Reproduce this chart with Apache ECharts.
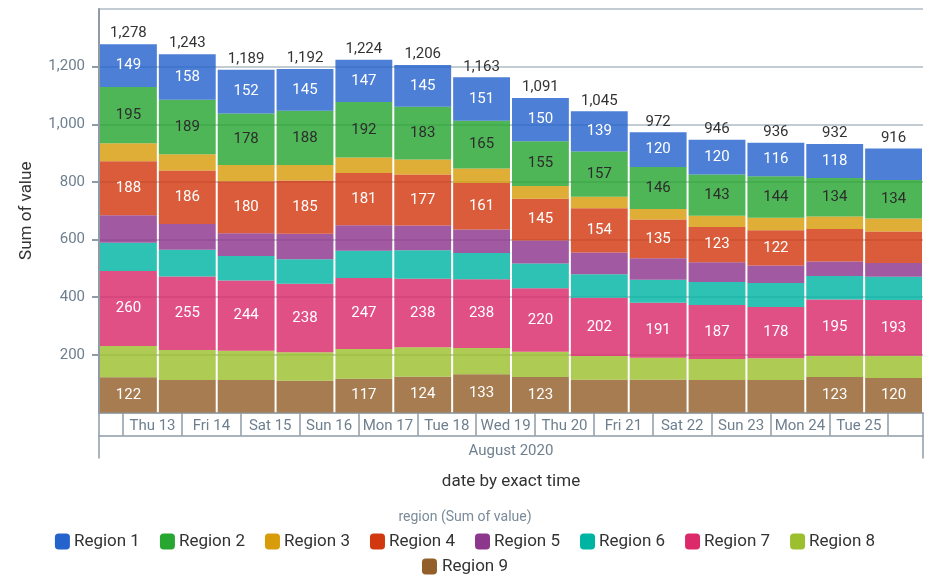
<!DOCTYPE html>
<html>
<head>
<meta charset="utf-8">
<script src="https://cdn.jsdelivr.net/npm/echarts@6/dist/echarts.min.js"></script>
<style>
html,body{margin:0;padding:0;background:#ffffff;}
#chart{width:930px;height:576px;}
</style>
</head>
<body>
<div id="chart"></div>
<script>
// ---- data ----
const categories = ['Aug 13','Aug 14','Aug 15','Aug 16','Aug 17','Aug 18','Aug 19','Aug 20','Aug 21','Aug 22','Aug 23','Aug 24','Aug 25','Aug 26'];
const region1 = [149,158,152,145,147,145,151,150,139,120,120,116,118,109];
const region2 = [195,189,178,188,192,183,165,155,157,146,143,144,134,134];
const region3 = [62,56,57,54,54,52,51,44,40,36,39,44,43,45];
const region4 = [188,186,180,185,181,177,161,145,154,135,123,122,113,109];
const region5 = [95,89,79,88,89,86,82,80,75,74,68,61,50,48];
const region6 = [98,93,85,85,94,99,91,86,82,80,80,83,82,81];
const region7 = [260,255,244,238,247,238,238,220,202,191,187,178,195,193];
const region8 = [109,104,101,99,103,102,91,88,82,76,73,75,74,77];
const region9 = [122,113,113,110,117,124,133,123,114,114,113,113,123,120];
const totals  = [1278,1243,1189,1192,1224,1206,1163,1091,1045,972,946,936,932,916];
const dayLabels = ['Thu 13','Fri 14','Sat 15','Sun 16','Mon 17','Tue 18','Wed 19','Thu 20','Fri 21','Sat 22','Sun 23','Mon 24','Tue 25'];
const monthLabel = 'August 2020';
const yTicks = [0,200,400,600,800,1000,1200,1400];
const regionNames = ['Region 1','Region 2','Region 3','Region 4','Region 5','Region 6','Region 7','Region 8','Region 9'];

// ---- styling ----
const baseColors = ['#2563cc','#27a631','#d89c0a','#d23810','#8c368c','#00b4a4','#db296a','#9cbf2e','#925f2a'];
const labelColors = ['#ffffff','#2d2d2d','#ffffff','#ffffff','#ffffff','#ffffff','#ffffff','#ffffff','#ffffff'];
const FONT = 'Roboto, "Noto Sans", sans-serif';
const AXIS_GRAY = '#8f9ca8';
const TEXT_GRAY = '#6e7f8f';
const DAY = 86400000;
const firstDay = Date.UTC(2020, 7, 13);
const axisStart = firstDay - 0.408 * DAY;
const axisEnd = axisStart + 14 * DAY;

function rgba(hex, a) {
  const n = parseInt(hex.slice(1), 16);
  return 'rgba(' + ((n >> 16) & 255) + ',' + ((n >> 8) & 255) + ',' + (n & 255) + ',' + a + ')';
}

const regionData = [region1, region2, region3, region4, region5, region6, region7, region8, region9];

const series = [];
for (let k = 8; k >= 0; k--) {
  series.push({
    name: regionNames[k],
    type: 'bar',
    stack: 'all',
    xAxisIndex: 0,
    yAxisIndex: 0,
    barCategoryGap: '3.4%',
    data: regionData[k],
    itemStyle: { color: rgba(baseColors[k], 0.82) },
    emphasis: { disabled: true },
    label: {
      show: true,
      position: 'inside',
      fontFamily: FONT,
      fontSize: 15,
      color: labelColors[k],
      formatter: p => (p.value >= 115 ? String(p.value) : '')
    }
  });
}
series.push({
  name: 'Total',
  type: 'bar',
  stack: 'all',
  xAxisIndex: 0,
  yAxisIndex: 0,
  barCategoryGap: '3.4%',
  data: totals.map(() => 0),
  itemStyle: { color: 'rgba(0,0,0,0)' },
  label: {
    show: true,
    position: 'top',
    distance: 3,
    fontFamily: FONT,
    fontSize: 15,
    color: '#333333',
    formatter: p => totals[p.dataIndex].toLocaleString('en-US')
  }
});

const chart = echarts.init(document.getElementById('chart'), null, { renderer: 'canvas' });
chart.setOption({
  animation: false,
  useUTC: true,
  textStyle: { fontFamily: FONT },
  grid: { left: 99, right: 7, top: 9, bottom: 163.5, containLabel: false },
  title: {
    text: 'region (Sum of value)',
    left: 'center',
    top: 505,
    textStyle: { fontFamily: FONT, fontSize: 14, fontWeight: 'normal', color: '#7a8a98' }
  },
  legend: [
    {
      data: regionNames.slice(0, 8).map((n, i) => ({ name: n, itemStyle: { color: baseColors[i] } })),
      left: 'center',
      top: 528,
      icon: 'roundRect',
      itemWidth: 15,
      itemHeight: 16,
      itemGap: 20,
      textStyle: { fontFamily: FONT, fontSize: 17, color: '#333333', padding: [0, 0, 0, -1] }
    },
    {
      data: [{ name: regionNames[8], itemStyle: { color: baseColors[8] } }],
      left: 'center',
      top: 553,
      icon: 'roundRect',
      itemWidth: 15,
      itemHeight: 16,
      textStyle: { fontFamily: FONT, fontSize: 17, color: '#333333' }
    }
  ],
  xAxis: [
    {
      type: 'category',
      data: categories,
      boundaryGap: true,
      axisLine: { show: false },
      axisTick: { show: false },
      axisLabel: { show: false },
      name: 'date by exact time',
      nameLocation: 'middle',
      nameGap: 61,
      nameTextStyle: { fontFamily: FONT, fontSize: 17, color: '#333333' }
    },
    {
      type: 'time',
      position: 'bottom',
      min: axisStart,
      max: axisEnd,
      minInterval: DAY,
      maxInterval: DAY,
      splitNumber: 14,
      axisLine: { show: true, lineStyle: { color: AXIS_GRAY, width: 1.5 } },
      axisTick: { show: true, length: 23, lineStyle: { color: AXIS_GRAY, width: 1.5 } },
      splitLine: { show: false },
      axisLabel: {
        show: true,
        margin: 6,
        align: 'center',
        padding: [0, 0, 0, 59],
        fontFamily: FONT,
        fontSize: 15,
        color: TEXT_GRAY,
        showMinLabel: true,
        showMaxLabel: true,
        formatter: function (value) {
          const i = Math.round((value - firstDay) / DAY);
          if (Math.abs(value - firstDay - i * DAY) > 1000) return '';
          return dayLabels[i] || '';
        }
      }
    },
    {
      type: 'value',
      position: 'bottom',
      offset: 23,
      min: 0,
      max: 1,
      interval: 1,
      axisLine: { show: true, lineStyle: { color: AXIS_GRAY, width: 1.5 } },
      axisTick: { show: true, length: 23, lineStyle: { color: AXIS_GRAY, width: 1.5 } },
      axisLabel: { show: false },
      splitLine: { show: false },
      name: monthLabel,
      nameLocation: 'middle',
      nameGap: 8,
      nameTextStyle: { fontFamily: FONT, fontSize: 15, color: TEXT_GRAY }
    }
  ],
  yAxis: [
    {
      type: 'value',
      min: yTicks[0],
      max: yTicks[yTicks.length - 1],
      interval: yTicks[1] - yTicks[0],
      name: 'Sum of value',
      nameLocation: 'middle',
      nameGap: 64,
      nameTextStyle: { fontFamily: FONT, fontSize: 17, color: '#333333' },
      axisLine: { show: true, lineStyle: { color: AXIS_GRAY, width: 2 } },
      axisTick: { show: true, length: 7, lineStyle: { color: AXIS_GRAY, width: 2 } },
      axisLabel: {
        margin: 14,
        fontFamily: FONT,
        fontSize: 15,
        color: TEXT_GRAY,
        showMinLabel: false,
        showMaxLabel: false,
        formatter: v => v.toLocaleString('en-US')
      },
      splitLine: { show: true, lineStyle: { color: '#c3ccd2', width: 2 } }
    }
  ],
  series: series
});
</script>
</body>
</html>
